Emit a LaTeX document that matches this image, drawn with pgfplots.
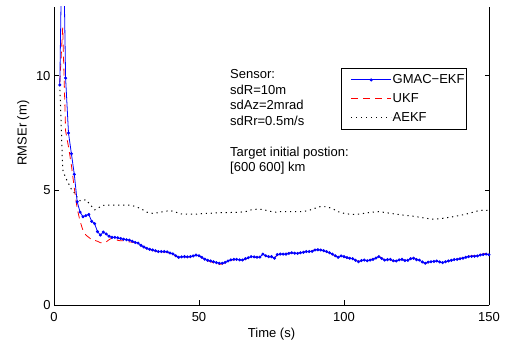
\documentclass[border=0pt]{standalone}
\usepackage{fontspec}
\setmainfont{Liberation Sans}
\usepackage{pgfplots}
\pgfplotsset{compat=1.18}
\begin{document}
\begin{tikzpicture}[font=\fontsize{13bp}{15.5bp}\selectfont]
\begin{axis}[
  scale only axis, width=435bp, height=298bp,
  xmin=0, xmax=150, ymin=0, ymax=13,
  xtick={0,50,100,150}, ytick={0,5,10},
  axis x line*=bottom, axis y line*=box,
  axis line style={line width=0.8pt},
  tick align=inside, major tick length=4.5bp,
  tick style={black, line width=0.6pt},
  /pgf/number format/assume math mode=true,
  xticklabel style={anchor=base, yshift=-16.7bp},
  xlabel={Time (s)},
  every axis x label/.style={at={(axis description cs:0.5,0)}, anchor=base, yshift=-32.5bp},
  legend image code/.code={\path (0bp,0bp) (48bp,0bp); \draw[mark repeat=2,mark phase=2,#1] plot coordinates {(7bp,0bp) (27bp,0bp) (47bp,0bp)};},
  legend style={at={(0.9494,0.7953)}, anchor=north east, draw=black, line width=0.8pt, fill=white,
    inner xsep=2bp, inner ysep=2bp, font=\fontsize{13bp}{15.5bp}\selectfont,
    nodes={inner xsep=0bp, inner ysep=3.5bp, text height=9.5bp, text depth=2.5bp, line width=0.8pt},
    /tikz/every even column/.append style={column sep=5bp}},
  legend cell align=left,
]
\addlegendimage{blue, line width=0.8pt, mark=*, mark size=1.1pt}
\addlegendentry{GMAC−EKF}
\addlegendimage{red, line width=0.8pt, dash pattern=on 7bp off 5bp}
\addlegendentry{UKF}
\addlegendimage{black, line width=1pt, dash pattern=on 1.2bp off 3.8bp}
\addlegendentry{AEKF}

% AEKF
\addplot[forget plot, black, line width=1pt, dash pattern=on 1.2bp off 3.8bp] table {
2 9.6
3 5.9
4 5.55
5 5.3
6 5.05
7 4.9
8 4.7
9 4.55
10 4.55
11 4.6
12 4.45
13 4.3
14 4.15
15 4.2
16 4.3
17 4.35
18 4.35
19 4.36
20 4.36
22 4.36
24 4.36
26 4.36
28 4.3
30 4.2
32 4.05
34 4.0
36 4.03
38 4.08
40 4.12
42 4.05
44 3.97
46 3.96
48 3.96
50 3.97
52 4.0
54 4.0
56 4.02
58 4.03
60 4.03
62 4.04
64 4.05
66 4.07
68 4.15
70 4.18
72 4.17
74 4.1
76 4.05
78 4.07
80 4.07
82 4.07
84 4.07
86 4.08
88 4.13
90 4.22
92 4.3
94 4.29
96 4.2
98 4.07
100 4.0
102 3.96
104 3.95
106 3.98
108 4.02
110 4.05
112 4.07
114 4.04
116 4.0
118 3.96
120 3.93
122 3.9
124 3.87
126 3.83
128 3.79
130 3.75
132 3.75
134 3.78
136 3.82
138 3.86
140 3.91
142 3.96
144 4.03
146 4.1
148 4.14
150 4.12
};

% UKF
\addplot[forget plot, red, line width=0.8pt, dash pattern=on 7bp off 5bp] table {
2 9.7
3 12.1
4 7.6
5 6.9
6 6.1
7 5.1
8 4.2
9 3.65
10 3.25
11 3.05
12 2.95
13 2.85
14 2.82
15 2.78
16 2.72
17 2.7
18 2.75
19 2.85
20 2.92
21 2.9
22 2.82
23 2.8
24 2.8
25 2.78
26 2.75
27 2.74
28 2.72
29 2.68
30 2.6
31 2.52
32 2.46
33 2.42
34 2.38
35 2.35
36 2.3
37 2.31
38 2.32
39 2.3
40 2.25
41 2.2
42 2.13
43 2.06
44 2.08
45 2.1
46 2.09
47 2.1
48 2.12
49 2.17
50 2.14
51 2.06
52 1.98
53 1.93
54 1.89
55 1.84
56 1.78
57 1.77
58 1.79
59 1.84
60 1.9
61 1.95
62 1.98
63 1.97
64 1.95
65 1.95
66 2.0
67 2.05
68 2.1
69 2.08
70 2.07
71 2.1
72 2.2
73 2.14
74 2.1
75 2.1
76 2.05
77 2.18
78 2.22
79 2.24
80 2.25
81 2.26
82 2.27
83 2.25
84 2.25
85 2.28
86 2.31
87 2.34
88 2.33
89 2.36
90 2.42
91 2.43
92 2.41
93 2.36
94 2.32
95 2.27
96 2.21
97 2.14
98 2.08
99 2.13
100 2.1
101 2.06
102 2.03
103 2.02
104 1.96
105 1.9
106 1.93
107 1.95
108 1.93
109 1.97
110 2.02
111 2.08
112 2.13
113 2.05
114 1.97
115 1.98
116 1.98
117 1.92
118 1.91
119 1.96
120 1.99
121 1.95
122 1.96
123 2.03
124 2.05
125 1.99
126 1.95
127 1.87
128 1.81
129 1.85
130 1.88
131 1.89
132 1.91
133 1.88
134 1.84
135 1.88
136 1.91
137 1.94
138 1.97
139 1.99
140 2.03
141 2.06
142 2.09
143 2.13
144 2.14
145 2.15
146 2.16
147 2.2
148 2.23
149 2.25
150 2.21
};

% GMAC-EKF
\addplot[forget plot, blue, line width=0.8pt, mark=*, mark size=1.1pt] table {
2 9.6
3 18
4 9.9
5 7.5
6 6.6
7 5.7
8 4.5
9 4.05
10 3.85
11 3.9
12 3.95
13 3.65
14 3.55
15 3.2
16 3.05
17 3.18
18 3.1
19 3.0
20 2.95
21 2.95
22 2.93
23 2.9
24 2.87
25 2.85
26 2.83
27 2.78
28 2.73
29 2.7
30 2.6
31 2.53
32 2.47
33 2.43
34 2.4
35 2.37
36 2.33
37 2.33
38 2.33
39 2.32
40 2.27
41 2.23
42 2.15
43 2.08
44 2.1
45 2.11
46 2.1
47 2.11
48 2.14
49 2.18
50 2.15
51 2.08
52 2.0
53 1.95
54 1.92
55 1.89
56 1.85
57 1.82
58 1.82
59 1.86
60 1.92
61 1.97
62 1.99
63 1.99
64 1.97
65 1.96
66 2.02
67 2.06
68 2.11
69 2.1
70 2.08
71 2.09
72 2.22
73 2.15
74 2.11
75 2.11
76 2.04
77 2.2
78 2.22
79 2.22
80 2.22
81 2.25
82 2.28
83 2.26
84 2.25
85 2.28
86 2.3
87 2.33
88 2.33
89 2.34
90 2.4
91 2.41
92 2.4
93 2.37
94 2.33
95 2.28
96 2.22
97 2.15
98 2.08
99 2.14
100 2.11
101 2.07
102 2.04
103 2.02
104 1.95
105 1.89
106 1.94
107 1.96
108 1.93
109 1.96
110 1.99
111 2.05
112 2.11
113 2.03
114 1.96
115 1.98
116 1.99
117 1.93
118 1.92
119 1.97
120 1.99
121 1.94
122 1.95
123 2.02
124 2.04
125 1.98
126 1.96
127 1.88
128 1.82
129 1.87
130 1.89
131 1.9
132 1.92
133 1.88
134 1.85
135 1.89
136 1.92
137 1.95
138 1.98
139 1.99
140 2.02
141 2.04
142 2.08
143 2.11
144 2.12
145 2.13
146 2.14
147 2.18
148 2.2
149 2.22
150 2.19
};

\node[anchor=base west, inner sep=0pt] at (axis cs:60.69,9.872) {Sensor:};
\node[anchor=base west, inner sep=0pt] at (axis cs:60.69,9.196) {sdR=10m};
\node[anchor=base west, inner sep=0pt] at (axis cs:60.69,8.520) {sdAz=2mrad};
\node[anchor=base west, inner sep=0pt] at (axis cs:60.69,7.844) {sdRr=0.5m/s};
\node[anchor=base west, inner sep=0pt] at (axis cs:60.69,6.492) {Target initial postion:};
\node[anchor=base west, inner sep=0pt] at (axis cs:60.69,5.816) {[600 600] km};

\coordinate (bl) at (rel axis cs:0,0);
\coordinate (tr) at (rel axis cs:1,1);
\end{axis}
\path (bl) ++(-27.5bp,172bp) node[rotate=90, anchor=base, inner sep=0pt] {RMSEr (m)};
\pgfresetboundingbox
\path (bl) ++(-54bp,-40bp) coordinate (a);
\path (tr) ++(21bp,7bp) coordinate (b);
\path[use as bounding box] (a) rectangle (b);
\end{tikzpicture}
\end{document}
